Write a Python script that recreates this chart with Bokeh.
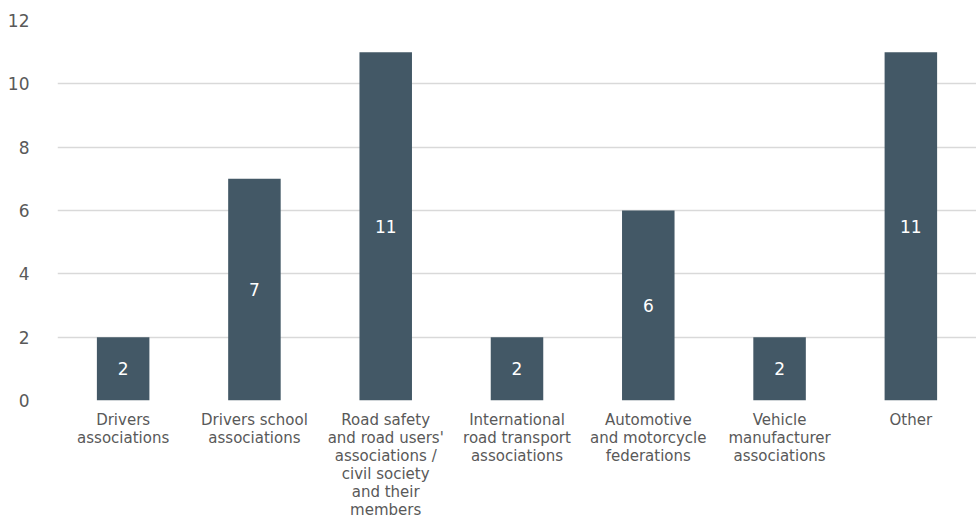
from bokeh.plotting import figure
from bokeh.models import ColumnDataSource, FixedTicker
from bokeh.embed import file_html
from bokeh.resources import INLINE
from bokeh.core.properties import value

categories = [
    "Drivers\nassociations",
    "Drivers school\nassociations",
    "Road safety\nand road users'\nassociations /\ncivil society\nand their\nmembers",
    "International\nroad transport\nassociations",
    "Automotive\nand motorcycle\nfederations",
    "Vehicle\nmanufacturer\nassociations",
    "Other",
]
counts = [2, 7, 11, 2, 6, 2, 11]
y_ticks = [0, 2, 4, 6, 8, 10, 12]

src = ColumnDataSource(dict(
    cat=categories,
    val=counts,
    mid=[v / 2 for v in counts],
    lab=[str(v) for v in counts],
))

p = figure(
    x_range=categories, y_range=(0, 12),
    frame_width=919, frame_height=380,
    output_backend="svg", toolbar_location=None,
    min_border_left=57, min_border_right=0,
    min_border_top=20, min_border_bottom=0,
)
p.outline_line_color = None
p.background_fill_color = "white"
p.border_fill_color = "white"

p.vbar(x="cat", top="val", width=0.4, source=src,
       fill_color="#435866", line_color=None)
p.text(x="cat", y="mid", text="lab", source=src,
       text_align="center", text_baseline="middle",
       text_color="white", text_font=value("DejaVu Sans"),
       text_font_size="17px")

p.xgrid.grid_line_color = None
p.ygrid.grid_line_color = "#d9d9d9"
p.ygrid.grid_line_width = 1.5
p.yaxis.ticker = FixedTicker(ticks=y_ticks)

for ax in (p.xaxis, p.yaxis):
    ax.axis_line_color = None
    ax.major_tick_line_color = None
    ax.minor_tick_line_color = None
    ax.major_label_text_color = "#595959"
    ax.major_label_text_font = "DejaVu Sans"

p.yaxis.major_label_text_font_size = "17px"
p.yaxis.major_label_standoff = 22
p.xaxis.major_label_text_font_size = "15px"
p.xaxis.major_label_standoff = 4
p.xaxis.major_label_orientation = "horizontal"
p.xaxis.major_label_text_line_height = 1.0

open("out.html", "w").write(file_html(p, INLINE))
